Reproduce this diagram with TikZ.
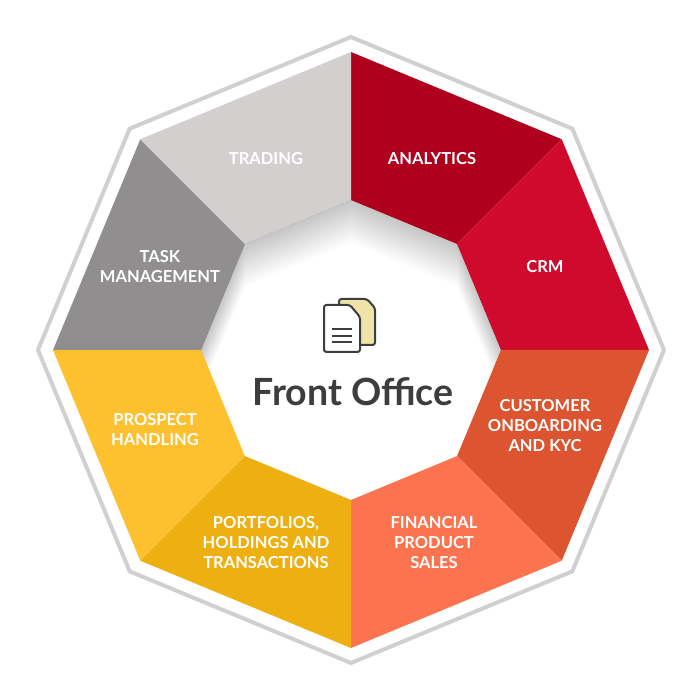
\documentclass[tikz,border=0pt]{standalone}
\usepackage{fontspec}
\setmainfont{Lato}
\usetikzlibrary{calc}
\definecolor{analyticsred}{HTML}{AF001E}
\definecolor{crmred}{HTML}{CF0A2C}
\definecolor{kycorange}{HTML}{DC5430}
\definecolor{salesorange}{HTML}{FC744F}
\definecolor{portfolioyellow}{HTML}{EDB010}
\definecolor{prospectyellow}{HTML}{FDC02F}
\definecolor{taskgrey}{HTML}{918E8F}
\definecolor{tradinggrey}{HTML}{D4CFCF}
\definecolor{ringgrey}{HTML}{D0D0D0}
\definecolor{inkgrey}{HTML}{3C3D3F}
\definecolor{docyellow}{HTML}{F0E3A8}
\begin{document}
\begin{tikzpicture}[x=1pt,y=1pt]
\tikzstyle{segment}=[line width=0pt]
\tikzstyle{seglabel}=[text=white,font=\fontsize{16.5}{20}\selectfont\bfseries,align=center,inner sep=0pt]
\tikzstyle{doc}=[draw=inkgrey,line width=2pt,rounded corners=2.5pt,line join=round]
\useasboundingbox (-351,-350) rectangle (349,350);
\fill[white] (-351,-350) rectangle (349,350);
\foreach \a in {0,45,...,315}{
  \coordinate (ring\a) at (\a:313);
  \coordinate (out\a) at (\a:298);
  \coordinate (in\a) at (\a:150);
}
\draw[ringgrey,line width=4pt,miter limit=4] (ring0) -- (ring45) -- (ring90) -- (ring135) -- (ring180) -- (ring225) -- (ring270) -- (ring315) -- cycle;
\foreach \a/\b/\col in {90/45/analyticsred,45/0/crmred,0/315/kycorange,315/270/salesorange,
  270/225/portfolioyellow,225/180/prospectyellow,180/135/taskgrey,135/90/tradinggrey}{
  \fill[\col,segment] (out\a) -- (out\b) -- (in\b) -- (in\a) -- cycle;
}
% shadow on the inner edge
\begin{scope}
\clip (in0) -- (in45) -- (in90) -- (in135) -- (in180) -- (in225) -- (in270) -- (in315) -- cycle;
\foreach \i in {1,...,14}{
  \fill[black,opacity=0.014,even odd rule] (-200,-200) rectangle (200,200)
    ($(in0)+(0,-3*\i)$) -- ($(in45)+(0,-3*\i)$) -- ($(in90)+(0,-3*\i)$) -- ($(in135)+(0,-3*\i)$)
    -- ($(in180)+(0,-3*\i)$) -- ($(in225)+(0,-3*\i)$) -- ($(in270)+(0,-3*\i)$) -- ($(in315)+(0,-3*\i)$) -- cycle;
}
\end{scope}
\node[seglabel] (analytics) at (81,191) {ANALYTICS};
\node[seglabel] (crm) at (194,83) {CRM};
\node[seglabel] (kyc) at (194,-76) {CUSTOMER\\ONBOARDING\\AND KYC};
\node[seglabel] (sales) at (83,-193) {FINANCIAL\\PRODUCT\\SALES};
\node[seglabel] (portfolios) at (-85,-193) {PORTFOLIOS,\\HOLDINGS AND\\TRANSACTIONS};
\node[seglabel] (prospect) at (-196,-80) {PROSPECT\\HANDLING};
\node[seglabel] (task) at (-191,83) {TASK\\MANAGEMENT};
\node[seglabel] (trading) at (-85,191) {TRADING};
\node[text=inkgrey,font=\fontsize{37.5}{42}\selectfont\bfseries,inner sep=0pt] (title) at (2,-42) {Front Office};
% document icon
\draw[doc,fill=docyellow] (-12,51) -- (16,51) -- (24,42) -- (24,5) -- (-12,5) -- cycle;
\draw[doc,fill=white] (-27,45) -- (-1,45) -- (9,33) -- (9,-2) -- (-27,-2) -- cycle;
\foreach \y in {21,14,8}{
  \draw[inkgrey,line width=1.7pt] (-19,\y) -- (1,\y);
}
\end{tikzpicture}
\end{document}
